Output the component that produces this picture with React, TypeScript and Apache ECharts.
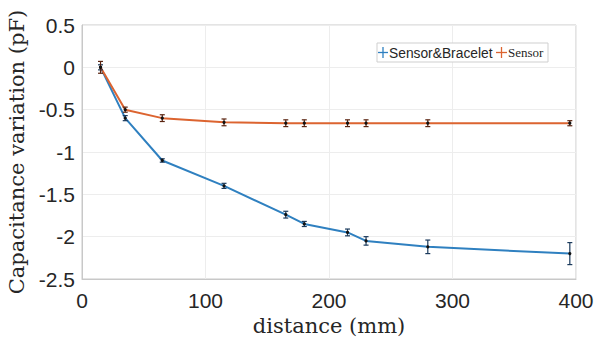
import React, { useEffect, useRef } from "react";
import * as echarts from "echarts";

const distances = [15, 35, 65, 115, 165, 180, 215, 230, 280, 395];
const braceletValues = [0, -0.6, -1.1, -1.4, -1.74, -1.85, -1.95, -2.05, -2.12, -2.2];
const braceletErrors = [0.03, 0.03, 0.02, 0.03, 0.04, 0.03, 0.04, 0.05, 0.08, 0.13];
const sensorValues = [0, -0.5, -0.6, -0.65, -0.66, -0.66, -0.66, -0.66, -0.66, -0.66];
const sensorErrors = [0.07, 0.03, 0.04, 0.04, 0.04, 0.04, 0.04, 0.04, 0.04, 0.03];
const xTicks = [0, 100, 200, 300, 400];
const yTicks = [-2.5, -2, -1.5, -1, -0.5, 0, 0.5];
const seriesNames = ["Sensor&Bracelet", "Sensor"];

const BLUE = "#2f80c0";
const ORANGE = "#dc6430";

function errorSeries(values: number[], errors: number[], color: string) {
  return {
    type: "custom",
    z: 5,
    silent: true,
    data: distances.map((d, i) => [d, values[i], errors[i]]),
    renderItem: (params: any, api: any) => {
      const x = api.value(0);
      const y = api.value(1);
      const e = api.value(2);
      const top = api.coord([x, y + e]);
      const bot = api.coord([x, y - e]);
      const mid = api.coord([x, y]);
      const cap = 2.5;
      const st = { stroke: color, lineWidth: 1.2 };
      return {
        type: "group",
        children: [
          { type: "line", shape: { x1: top[0], y1: top[1], x2: bot[0], y2: bot[1] }, style: st },
          { type: "line", shape: { x1: top[0] - cap, y1: top[1], x2: top[0] + cap, y2: top[1] }, style: st },
          { type: "line", shape: { x1: bot[0] - cap, y1: bot[1], x2: bot[0] + cap, y2: bot[1] }, style: st },
          { type: "circle", shape: { cx: mid[0], cy: mid[1], r: 1.6 }, style: { fill: "#111" } },
        ],
      };
    },
  };
}

export default function App() {
  const ref = useRef<HTMLDivElement>(null);
  useEffect(() => {
    if (!ref.current) return;
    const chart = echarts.init(ref.current, undefined, { renderer: "svg" });
    const tickFont = { fontFamily: "Liberation Sans, Arial, sans-serif", fontSize: 21, color: "#262626" };
    chart.setOption({
      animation: false,
      backgroundColor: "#fff",
      grid: {
        left: 82, right: 20, top: 25, bottom: 61,
        show: true, borderColor: "#c8c8c8", borderWidth: 1,
        containLabel: false, outerBoundsMode: "none",
      },
      xAxis: {
        type: "value",
        min: xTicks[0],
        max: xTicks[xTicks.length - 1],
        interval: 100,
        name: "distance (mm)",
        nameLocation: "middle",
        nameGap: 34,
        nameTextStyle: { fontFamily: "DejaVu Serif, serif", fontSize: 21, color: "#262626" },
        axisLine: { show: true, onZero: false, lineStyle: { color: "#c8c8c8" } },
        axisTick: { show: false },
        axisLabel: { ...tickFont, margin: 11 },
        splitLine: { show: true, lineStyle: { color: "#ededed" } },
      },
      yAxis: {
        type: "value",
        min: yTicks[0],
        max: yTicks[yTicks.length - 1],
        interval: 0.5,
        name: "Capacitance variation (pF)",
        nameLocation: "middle",
        nameGap: 50,
        nameTextStyle: { fontFamily: "DejaVu Serif, serif", fontSize: 21, color: "#262626" },
        axisLine: { show: true, onZero: false, lineStyle: { color: "#c8c8c8" } },
        axisTick: { show: false },
        axisLabel: { ...tickFont, margin: 7 },
        splitLine: { show: true, lineStyle: { color: "#ededed" } },
      },
      series: [
        {
          name: seriesNames[0],
          type: "line",
          data: distances.map((d, i) => [d, braceletValues[i]]),
          showSymbol: false,
          lineStyle: { color: BLUE, width: 2 },
          z: 3,
        },
        {
          name: seriesNames[1],
          type: "line",
          data: distances.map((d, i) => [d, sensorValues[i]]),
          showSymbol: false,
          lineStyle: { color: ORANGE, width: 2 },
          z: 3,
        },
        errorSeries(braceletValues, braceletErrors, "#1b3a5c"),
        errorSeries(sensorValues, sensorErrors, "#5a2410"),
      ],
      graphic: [
        { type: "rect", shape: { x: 377, y: 43, width: 171, height: 19 }, style: { fill: "#fff", stroke: "#cfcfcf", lineWidth: 1 }, z: 10 },
        { type: "line", shape: { x1: 378, y1: 52.5, x2: 388, y2: 52.5 }, style: { stroke: BLUE, lineWidth: 1.3 }, z: 11 },
        { type: "line", shape: { x1: 383, y1: 47, x2: 383, y2: 58 }, style: { stroke: BLUE, lineWidth: 1.3 }, z: 11 },
        { type: "text", x: 389, y: 53, style: { text: seriesNames[0], fontFamily: "Liberation Sans, Arial, sans-serif", fontSize: 13.8, fill: "#262626", verticalAlign: "middle" }, z: 11 },
        { type: "line", shape: { x1: 496, y1: 52.5, x2: 507, y2: 52.5 }, style: { stroke: ORANGE, lineWidth: 1.3 }, z: 11 },
        { type: "line", shape: { x1: 501.5, y1: 47, x2: 501.5, y2: 58 }, style: { stroke: ORANGE, lineWidth: 1.3 }, z: 11 },
        { type: "text", x: 508, y: 52, style: { text: seriesNames[1], fontFamily: "Liberation Serif, serif", fontSize: 13, fill: "#262626", verticalAlign: "middle" }, z: 11 },
      ],
    });
    return () => chart.dispose();
  }, []);
  return <div ref={ref} style={{ position: "absolute", left: 0, top: 0, width: 596, height: 340 }} />;
}
